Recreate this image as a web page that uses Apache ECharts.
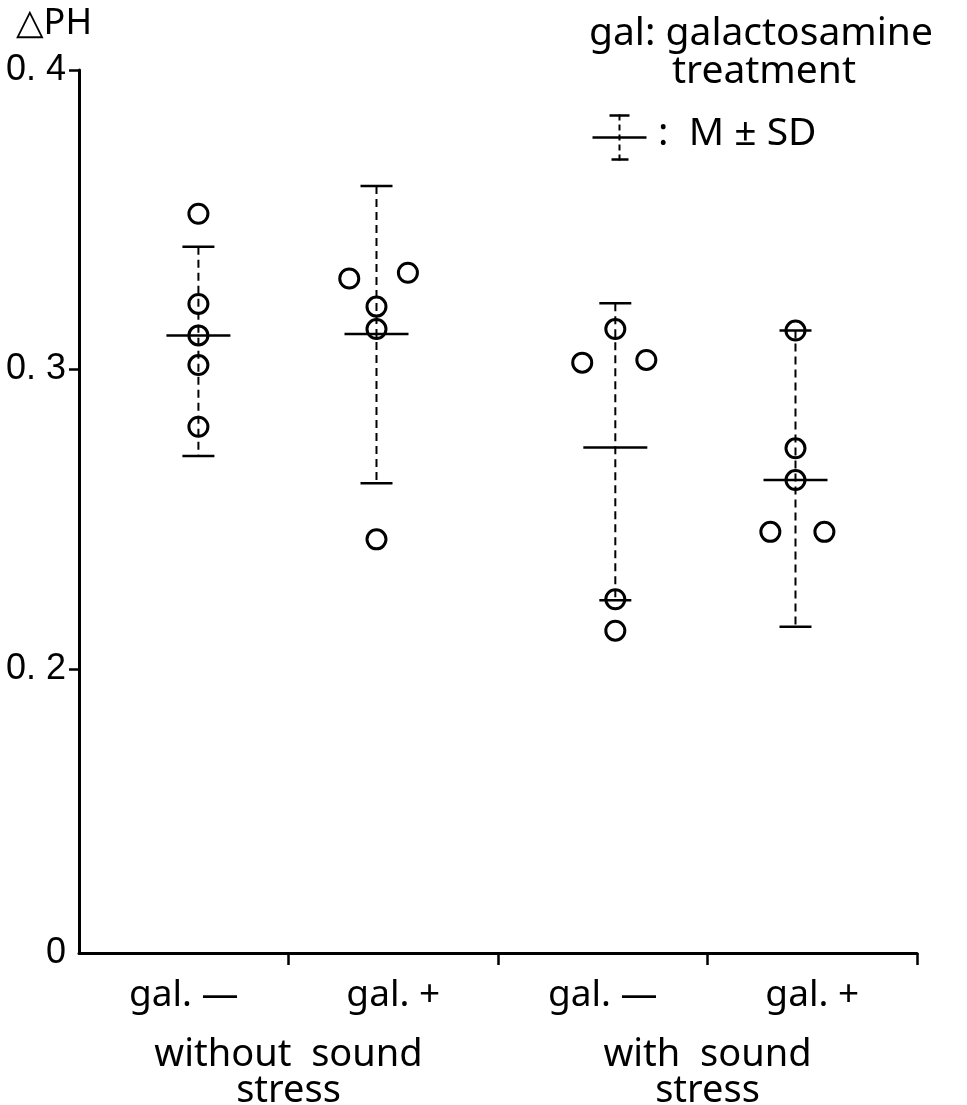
<!DOCTYPE html>
<html>
<head>
<meta charset="utf-8">
<script src="https://cdn.jsdelivr.net/npm/echarts@6/dist/echarts.min.js"></script>
<style>
  html, body { margin: 0; padding: 0; background: #fff; }
  #chart { width: 967px; height: 1105px; }
</style>
</head>
<body>
<div id="chart"></div>
<script>
// x categories and grouping
const categories = ['gal. \u2014', 'gal. +', 'gal. \u2014', 'gal. +']
const groupNames = ['without  sound\nstress', 'with  sound\nstress']

// y axis ticks (axis is broken: its bottom is labelled 0)
const yTicks = [0.2, 0.3, 0.4]
const yTickLabels = ['0. 2', '0. 3', '0. 4']
const yBottom = 0.1052
const yBottomLabel = '0'

// column position of each group (in category units) and M +- SD
const groupX = [0.57, 1.42, 2.56, 3.42]
const means = [0.3114, 0.3119, 0.274, 0.2631]
const upper = [0.341, 0.3613, 0.3221, 0.313]
const lower = [0.2711, 0.262, 0.223, 0.2141]

// individual values: [horizontal shift, value]
const points1 = [[0, 0.352], [0, 0.3219], [0, 0.3114], [0, 0.3015], [0, 0.2809]]
const points2 = [[-0.13, 0.3304], [0.15, 0.3323], [0, 0.321], [0, 0.3135], [0, 0.2433]]
const points3 = [[0, 0.3135], [-0.158, 0.3023], [0.148, 0.3032], [0, 0.2233], [0, 0.2128]]
const points4 = [[0, 0.313], [0, 0.2737], [0, 0.2631], [-0.12, 0.2458], [0.138, 0.2458]]

const groups = [points1, points2, points3, points4]
const scatterData = []
groups.forEach((pts, i) => {
  pts.forEach(p => scatterData.push([groupX[i] + p[0], p[1]]))
})
const barData = groupX.map((x, i) => [x, means[i], lower[i], upper[i]])

const textFont = "'Noto Sans', 'DejaVu Sans', sans-serif"
const numFont = "'Liberation Sans Narrow', 'Liberation Sans', sans-serif"

const chart = echarts.init(document.getElementById('chart'))

function renderBar(params, api) {
  const x = api.value(0)
  const m = api.coord([x, api.value(1)])
  const lo = api.coord([x, api.value(2)])
  const hi = api.coord([x, api.value(3)])
  const cap = 16
  const half = 32
  const solid = { stroke: '#000', lineWidth: 2.5 }
  return {
    type: 'group',
    children: [
      {
        type: 'line',
        shape: { x1: hi[0], y1: hi[1], x2: lo[0], y2: lo[1] },
        style: { stroke: '#000', lineWidth: 2, lineDash: [8, 5] }
      },
      { type: 'line', shape: { x1: hi[0] - cap, y1: hi[1], x2: hi[0] + cap, y2: hi[1] }, style: solid },
      { type: 'line', shape: { x1: lo[0] - cap, y1: lo[1], x2: lo[0] + cap, y2: lo[1] }, style: solid },
      { type: 'line', shape: { x1: m[0] - half, y1: m[1], x2: m[0] + half, y2: m[1] }, style: solid }
    ]
  }
}

chart.setOption({
  animation: false,
  backgroundColor: '#fff',
  grid: { left: 79, right: 50, top: 70, bottom: 152, outerBoundsMode: 'none' },
  xAxis: [
    {
      type: 'value',
      min: 0,
      max: 4,
      splitLine: { show: false },
      axisLine: { lineStyle: { color: '#000', width: 3 } },
      axisTick: {
        length: 12,
        lineStyle: { color: '#000', width: 2.5 },
        customValues: [1, 2, 3, 4]
      },
      axisLabel: {
        customValues: [0.5, 1.5, 2.5, 3.5],
        formatter: v => categories[Math.floor(v)],
        color: '#000',
        fontFamily: textFont,
        fontSize: 37,
        margin: 24
      }
    },
    {
      type: 'category',
      data: groupNames,
      position: 'bottom',
      offset: 84,
      axisLine: { show: false },
      axisTick: { show: false },
      axisLabel: {
        color: '#000',
        fontFamily: textFont,
        fontSize: 38,
        lineHeight: 36,
        margin: 0
      }
    }
  ],
  yAxis: {
    type: 'value',
    min: yBottom,
    max: 0.4,
    name: '\u25b3PH',
    nameLocation: 'end',
    nameGap: 28,
    nameTextStyle: {
      color: '#000',
      fontFamily: textFont,
      fontSize: 36,
      align: 'center',
      padding: [0, 50, 0, 0]
    },
    splitLine: { show: false },
    axisLine: { show: true, lineStyle: { color: '#000', width: 3 } },
    axisTick: {
      show: true,
      length: 10,
      lineStyle: { color: '#000', width: 2.5 },
      customValues: yTicks
    },
    axisLabel: {
      customValues: [yBottom].concat(yTicks),
      formatter: v => v < 0.15 ? yBottomLabel : yTickLabels[yTicks.indexOf(Math.round(v * 10) / 10)],
      color: '#000',
      fontFamily: numFont,
      fontSize: 36,
      margin: 13
    }
  },
  graphic: [
    {
      type: 'text',
      left: 589,
      top: 14,
      style: {
        text: 'gal: galactosamine',
        fill: '#000',
        font: '39px ' + textFont
      }
    },
    {
      type: 'text',
      left: 672,
      top: 52,
      style: {
        text: 'treatment',
        fill: '#000',
        font: '39px ' + textFont
      }
    },
    {
      type: 'group',
      left: 590,
      top: 112,
      children: [
        { type: 'line', shape: { x1: 27, y1: 0, x2: 27, y2: 46 }, style: { stroke: '#000', lineWidth: 2, lineDash: [6, 4] } },
        { type: 'line', shape: { x1: 17, y1: 1, x2: 37, y2: 1 }, style: { stroke: '#000', lineWidth: 2.5 } },
        { type: 'line', shape: { x1: 19, y1: 45, x2: 36, y2: 45 }, style: { stroke: '#000', lineWidth: 2.5 } },
        { type: 'line', shape: { x1: 0, y1: 23, x2: 54, y2: 23 }, style: { stroke: '#000', lineWidth: 2.5 } }
      ]
    },
    {
      type: 'text',
      left: 658,
      top: 114,
      style: {
        text: ':  M \u00b1 SD',
        fill: '#000',
        font: '39px ' + textFont
      }
    }
  ],
  series: [
    {
      type: 'custom',
      xAxisIndex: 0,
      renderItem: renderBar,
      data: barData,
      z: 2
    },
    {
      type: 'scatter',
      xAxisIndex: 0,
      data: scatterData,
      symbol: 'circle',
      symbolSize: 19,
      itemStyle: { color: 'rgba(0,0,0,0)', borderColor: '#000', borderWidth: 3, opacity: 1 },
      z: 3
    }
  ]
})
</script>
</body>
</html>
